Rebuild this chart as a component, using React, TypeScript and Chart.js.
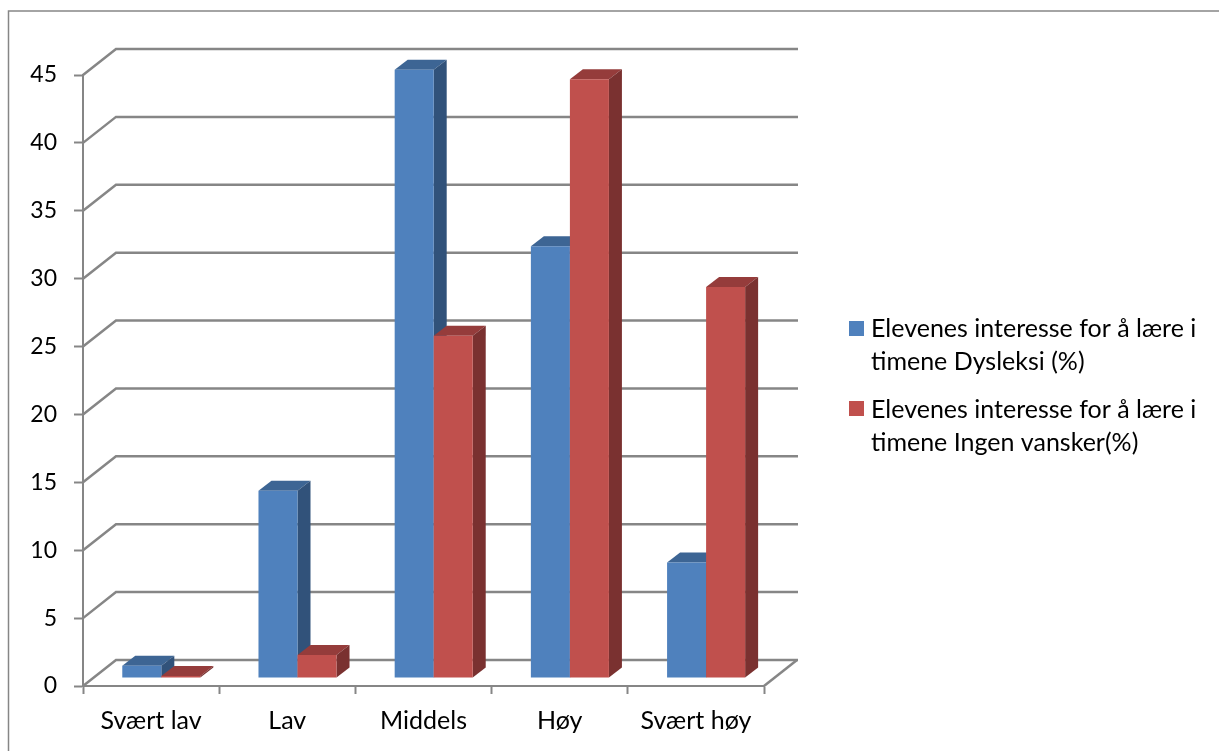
import React, { useEffect, useRef } from "react";
import { Chart, registerables } from "chart.js";

Chart.register(...registerables);

const categories = ["Svært lav", "Lav", "Middels", "Høy", "Svært høy"];
const dysleksi = [0.9, 13.8, 44.8, 31.8, 8.5];
const ingenVansker = [0.15, 1.7, 25.2, 44.1, 28.8];
const legendDysleksi = ["Elevenes interesse for å lære i", "timene Dysleksi (%)"];
const legendIngen = ["Elevenes interesse for å lære i", "timene Ingen vansker(%)"];

const AXIS = "#868686";
const FONT = "Lato, Carlito, sans-serif";
const FONT_SIZE = 25;
const VALUE_FONT_SIZE = 23;

// Oblique offset of the back wall, of the bars' front plane, and of a bar's own depth.
const WALL = { dx: 33, dy: -26 };
const PLANE = { dx: 10.2, dy: -8 };
const DEPTH = { dx: 13, dy: -10 };

const faces = [
  { side: "#31527A", top: "#3D6594" },
  { side: "#7A3130", top: "#953C3B" },
];

function polygon(ctx: CanvasRenderingContext2D, pts: number[][], fill: string) {
  ctx.beginPath();
  pts.forEach(([x, y], i) => (i ? ctx.lineTo(x, y) : ctx.moveTo(x, y)));
  ctx.closePath();
  ctx.fillStyle = fill;
  ctx.fill();
}

const frame3d = {
  id: "frame3d",
  beforeDraw(chart: any) {
    const { ctx, width, height } = chart;
    ctx.save();
    ctx.fillStyle = "#fff";
    ctx.fillRect(0, 0, width, height);
    // Outer chart border, cut by the canvas on the right and at the bottom
    ctx.strokeStyle = AXIS;
    ctx.lineWidth = 1.5;
    ctx.beginPath();
    ctx.moveTo(8.5, height);
    ctx.lineTo(8.5, 11);
    ctx.lineTo(width, 11);
    ctx.stroke();
    ctx.restore();
  },
  beforeDatasetsDraw(chart: any) {
    const { ctx, chartArea, scales } = chart;
    const { left, right, bottom } = chartArea;
    ctx.save();
    ctx.strokeStyle = AXIS;
    ctx.lineWidth = 2.5;
    // Wall gridlines: a diagonal on the side wall, then the run along the back wall
    scales.y.ticks.forEach((t: any) => {
      const y = scales.y.getPixelForValue(t.value);
      ctx.beginPath();
      ctx.moveTo(left, y);
      ctx.lineTo(left + WALL.dx, y + WALL.dy);
      ctx.lineTo(right + WALL.dx + 1, y + WALL.dy);
      ctx.stroke();
    });
    // Right edge of the floor
    ctx.beginPath();
    ctx.moveTo(right, bottom);
    ctx.lineTo(right + WALL.dx, bottom + WALL.dy);
    ctx.stroke();
    ctx.restore();

    // Bars in dataset order, so each red front hides the blue side next to it
    ctx.save();
    ctx.translate(PLANE.dx, PLANE.dy);
    chart.getSortedVisibleDatasetMetas().forEach((meta: any) => {
      const face = faces[meta.index];
      meta.data.forEach((bar: any) => {
        const p = bar.getProps(["x", "y", "base", "width"], true);
        const l = p.x - p.width / 2;
        const r = p.x + p.width / 2;
        polygon(ctx, [[l, p.y], [r, p.y], [r + DEPTH.dx, p.y + DEPTH.dy], [l + DEPTH.dx, p.y + DEPTH.dy]], face.top);
        polygon(ctx, [[r, p.y], [r + DEPTH.dx, p.y + DEPTH.dy], [r + DEPTH.dx, p.base + DEPTH.dy], [r, p.base]], face.side);
        bar.draw(ctx);
      });
    });
    ctx.restore();
    return false;
  },
  afterDraw(chart: any) {
    // Two-line legend entries
    const { ctx } = chart;
    const entries = [
      { lines: legendDysleksi, color: chart.data.datasets[0].backgroundColor, boxY: 321, baselines: [337, 370] },
      { lines: legendIngen, color: chart.data.datasets[1].backgroundColor, boxY: 401, baselines: [418, 451] },
    ];
    ctx.save();
    ctx.font = `${FONT_SIZE}px ${FONT}`;
    ctx.textBaseline = "alphabetic";
    ctx.textAlign = "left";
    entries.forEach((e) => {
      ctx.fillStyle = e.color;
      ctx.fillRect(849, e.boxY, 15, 15);
      ctx.fillStyle = "#000";
      e.lines.forEach((line, i) => ctx.fillText(line, 871, e.baselines[i]));
    });
    ctx.restore();
  },
};

export default function App() {
  const ref = useRef<HTMLCanvasElement>(null);
  useEffect(() => {
    const chart = new Chart(ref.current!, {
      type: "bar",
      data: {
        labels: categories,
        datasets: [
          { label: legendDysleksi.join(" "), data: dysleksi, backgroundColor: "#4F81BD" },
          { label: legendIngen.join(" "), data: ingenVansker, backgroundColor: "#C0504D" },
        ],
      },
      plugins: [frame3d],
      options: {
        responsive: false,
        animation: false,
        categoryPercentage: 0.573,
        barPercentage: 1,
        layout: { padding: { top: 75, right: 455, left: 0, bottom: 0 } },
        plugins: { legend: { display: false }, tooltip: { enabled: false } },
        scales: {
          x: {
            afterFit(scale: any) {
              scale.height = 65;
            },
            grid: { drawOnChartArea: false, tickLength: 8, tickColor: AXIS, tickWidth: 2 },
            border: { color: AXIS, width: 2 },
            ticks: { color: "#000", font: { family: FONT, size: FONT_SIZE }, padding: 12, maxRotation: 0 },
          },
          y: {
            min: 0,
            max: 45,
            afterFit(scale: any) {
              scale.width = 83;
            },
            grid: { drawOnChartArea: false, tickLength: 9, tickColor: AXIS, tickWidth: 2 },
            border: { color: AXIS, width: 2 },
            ticks: { stepSize: 5, color: "#000", font: { family: FONT, size: VALUE_FONT_SIZE }, padding: 17 },
          },
        },
      } as any,
    });
    return () => chart.destroy();
  }, []);
  return (
    <canvas
      ref={ref}
      width={1219}
      height={751}
      style={{ position: "fixed", left: 0, top: 0, display: "block" }}
    />
  );
}
